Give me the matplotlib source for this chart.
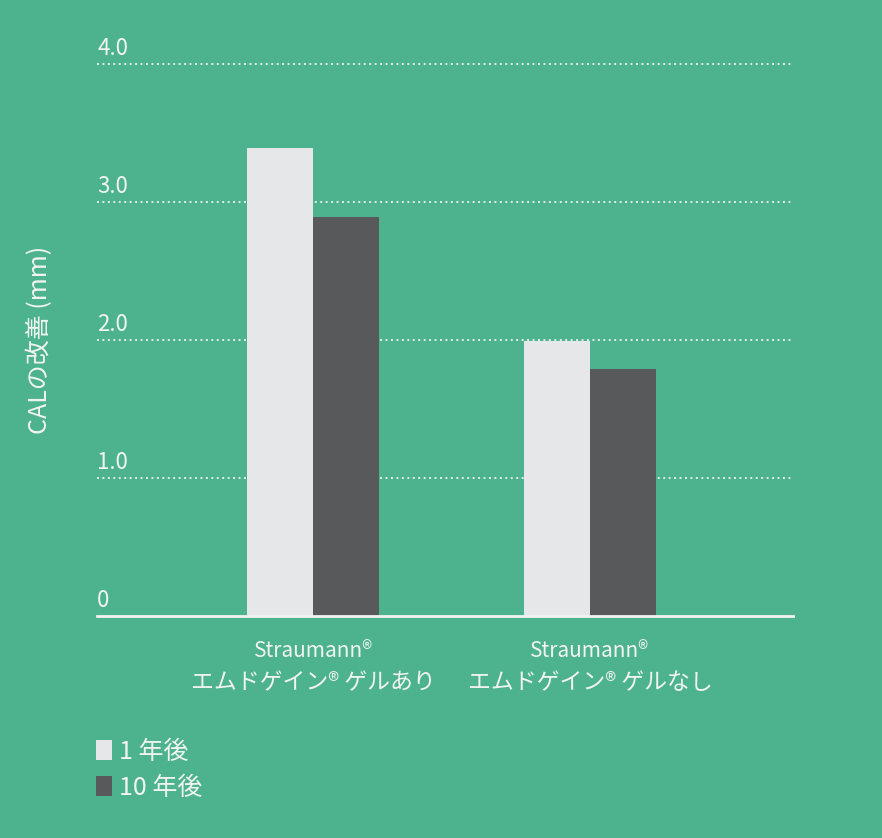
import matplotlib
matplotlib.use('Agg')
import matplotlib.pyplot as plt
import numpy as np

plt.rcParams['font.family'] = ['Noto Sans CJK JP', 'DejaVu Sans']

BG = '#4db38e'
LIGHT = '#e6e7e8'
DARK = '#58595b'
TEXT = '#f2f4f2'

groups = ["Straumann®\nエムドゲイン® ゲルあり", "Straumann®\nエムドゲイン® ゲルなし"]
series_names = ["1 年後", "10 年後"]
year1 = [3.39, 1.99]
year10 = [2.89, 1.79]
yticks = [0, 1.0, 2.0, 3.0, 4.0]
ytick_labels = ["0", "1.0", "2.0", "3.0", "4.0"]

fig = plt.figure(figsize=(8.82, 8.38), dpi=100, facecolor=BG)
ax = fig.add_axes([0.110, 0.265, 0.789, 0.659])
ax.set_facecolor(BG)

x = np.arange(len(groups))
w = 0.238
ax.bar(x - w / 2, year1, w, color=LIGHT, label=series_names[0], zorder=3)
ax.bar(x + w / 2, year10, w, color=DARK, label=series_names[1], zorder=3)

ax.set_xlim(-0.78, 1.733)
ax.set_ylim(0, 4.0)

# dotted gridlines
for v in yticks[1:]:
    ax.axhline(v, color=TEXT, lw=1.4, ls=(0, (1, 1.8)), alpha=0.9, zorder=1, clip_on=False)
ax.axhline(0, color=TEXT, lw=2, zorder=4, clip_on=False)

for s in ax.spines.values():
    s.set_visible(False)
ax.set_yticks([])
ax.set_xticks([])

# y tick labels sit above the gridlines, left aligned
for v, lab in zip(yticks, ytick_labels):
    ax.annotate(lab, xy=(0, v), xycoords=('axes fraction', 'data'),
                xytext=(0, 3), textcoords='offset points',
                ha='left', va='bottom', color=TEXT, fontsize=16)

# category labels
for xi, lab in zip(x, groups):
    top, bottom = lab.split("\n")
    ax.annotate(top, xy=(xi, 0), xycoords='data', xytext=(0, -17),
                textcoords='offset points', ha='center', va='top',
                color=TEXT, fontsize=15)
    ax.annotate(bottom, xy=(xi, 0), xycoords='data', xytext=(0, -40),
                textcoords='offset points', ha='center', va='top',
                color=TEXT, fontsize=16.5)

fig.text(0.045, 0.594, "CALの改善 (mm)", rotation=90, ha='center', va='center',
         color=TEXT, fontsize=18)

leg = fig.legend(loc='upper left', bbox_to_anchor=(0.109, 0.118), frameon=False,
                 handlelength=0.65, handleheight=0.85, handletextpad=0.25,
                 labelspacing=0.4, fontsize=18, borderaxespad=0, borderpad=0)
for t in leg.get_texts():
    t.set_color(TEXT)

fig.savefig("out.png", dpi=100, facecolor=BG)
